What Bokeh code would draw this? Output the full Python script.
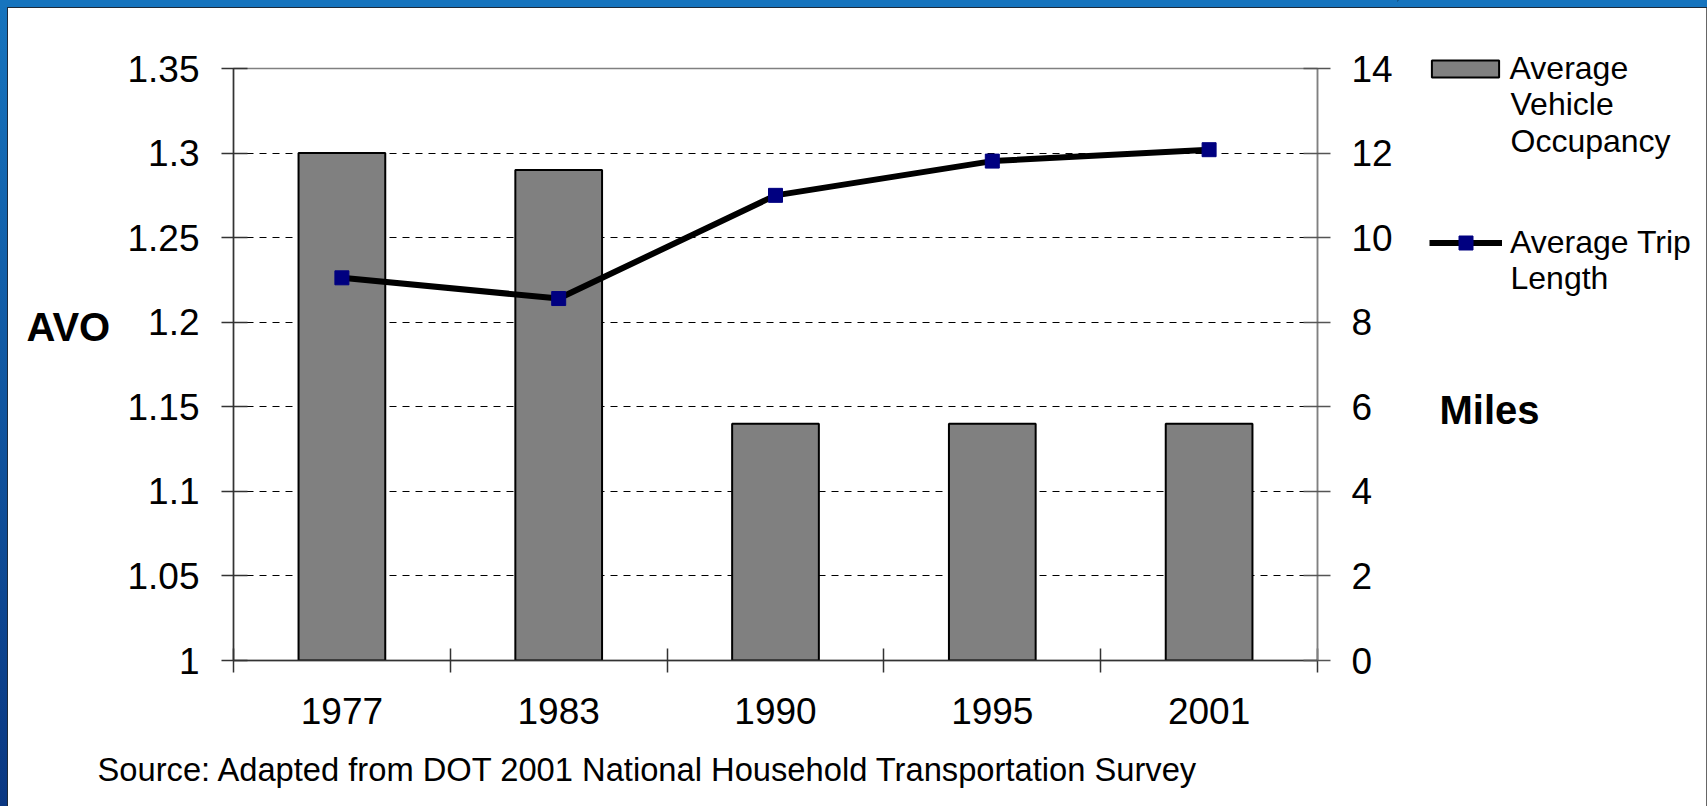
import re
from bokeh.plotting import figure
from bokeh.layouts import row, column
from bokeh.models import (Range1d, LinearAxis, FixedTicker, PrintfTickFormatter,
                          Legend, LegendItem, Label)
from bokeh.embed import file_html
from bokeh.resources import INLINE

# ---------------- data ----------------
years = ["1977", "1983", "1990", "1995", "2001"]
avo = [1.30, 1.29, 1.14, 1.14, 1.14]
trip_miles = [9.05, 8.56, 11.0, 11.81, 12.08]
avo_ticks = [1.0, 1.05, 1.1, 1.15, 1.2, 1.25, 1.3, 1.35]
miles_ticks = [0, 2, 4, 6, 8, 10, 12, 14]
avo_label = "AVO"
miles_label = "Miles"
bar_name_lines = ["Average", "Vehicle", "Occupancy"]
line_name_lines = ["Average Trip", "Length"]
source_text = "Source: Adapted from DOT 2001 National Household Transportation Survey"

# ---------------- layout (page pixels) ----------------
FONT = "Liberation Sans"
TOTAL_W, TOTAL_H = 1707, 806
LEFT_W = 120                       # left strip figure (AVO)
M_BL, FW, M_BR = 113, 1084, 80     # main figure borders / frame width
M_BT, FH, M_BB = 68, 592, 88       # main figure borders / frame height
MAIN_W = M_BL + FW + M_BR
MAIN_H = M_BT + FH + M_BB
RIGHT_W = TOTAL_W - LEFT_W - MAIN_W
BOTTOM_H = TOTAL_H - MAIN_H
TICK_FS = "37px"
LEG_FS = "32px"
BOLD_FS = "40px"
SRC_FS = "32.7px"

BAR_FILL = "#808080"
MARKER = "#000080"

xc = [i + 0.5 for i in range(len(years))]


def blank_fig(w, h, y0):
    f = figure(width=w, height=h, x_range=Range1d(0, w),
               y_range=Range1d(y0 + h, y0),
               x_axis_location=None, y_axis_location=None,
               min_border=0, output_backend="svg", toolbar_location=None,
               border_fill_color=None, background_fill_color=None,
               outline_line_color=None, frame_align=False)
    f.grid.visible = False
    return f


def add_text(f, x, y, txt, size, bold=False):
    f.add_layout(Label(x=x, y=y, text=txt, text_font=FONT,
                       text_font_size=size,
                       text_font_style="bold" if bold else "normal",
                       text_align="left", text_baseline="alphabetic",
                       text_color="black"))


# ---------------- main chart ----------------
p = figure(frame_width=FW, frame_height=FH,
           min_border_left=M_BL, min_border_top=M_BT,
           min_border_right=M_BR, min_border_bottom=M_BB,
           x_range=Range1d(0, len(years)),
           y_range=Range1d(avo_ticks[0], avo_ticks[-1]),
           output_backend="svg", toolbar_location=None,
           background_fill_color="white", border_fill_color=None,
           frame_align=False)
p.extra_y_ranges = {"miles": Range1d(miles_ticks[0], miles_ticks[-1])}
p.outline_line_color = "#808080"
p.outline_line_width = 1.5

xa = p.xaxis[0]
xa.ticker = FixedTicker(ticks=xc, minor_ticks=list(range(len(years) + 1)))
xa.major_label_overrides = {x: y for x, y in zip(xc, years)}
xa.major_tick_in = 0
xa.major_tick_out = 0
xa.major_tick_line_color = None
xa.minor_tick_in = 12
xa.minor_tick_out = 12
xa.minor_tick_line_color = "#333333"
xa.minor_tick_line_width = 1.5
xa.axis_line_color = "#333333"
xa.axis_line_width = 1.5
xa.major_label_text_font = FONT
xa.major_label_text_font_size = TICK_FS
xa.major_label_text_color = "black"
xa.major_label_standoff = 25

ya = p.yaxis[0]
ya.ticker = FixedTicker(ticks=avo_ticks)
ya.formatter = PrintfTickFormatter(format="%g")
ya.major_tick_in = 14
ya.major_tick_out = 12
ya.major_tick_line_color = "#333333"
ya.major_tick_line_width = 1.5
ya.minor_tick_line_color = None
ya.axis_line_color = "#333333"
ya.axis_line_width = 1.5
ya.major_label_text_font = FONT
ya.major_label_text_font_size = TICK_FS
ya.major_label_text_color = "black"
ya.major_label_standoff = 22

ra = LinearAxis(y_range_name="miles", ticker=FixedTicker(ticks=miles_ticks))
ra.major_tick_in = 14
ra.major_tick_out = 13
ra.major_tick_line_color = "#555555"
ra.major_tick_line_width = 1.5
ra.minor_tick_line_color = None
ra.axis_line_color = "#808080"
ra.axis_line_width = 1.5
ra.major_label_text_font = FONT
ra.major_label_text_font_size = TICK_FS
ra.major_label_text_color = "black"
ra.major_label_standoff = 21
p.add_layout(ra, "right")

p.xgrid.visible = False
p.ygrid.ticker = FixedTicker(ticks=avo_ticks[1:-1])
p.ygrid.grid_line_color = "black"
p.ygrid.grid_line_width = 1
p.ygrid.grid_line_dash = "7 6"

p.vbar(x=xc, top=avo, bottom=avo_ticks[0], width=0.4,
       fill_color=BAR_FILL, line_color="black", line_width=2)
p.line(xc, trip_miles, y_range_name="miles", line_color="black", line_width=6)
p.scatter(xc, trip_miles, y_range_name="miles", marker="square",
          size=14, fill_color=MARKER, line_color=MARKER)

# ---------------- left strip (AVO) ----------------
left = blank_fig(LEFT_W, MAIN_H, 0)
add_text(left, 26, 326, avo_label, BOLD_FS, bold=True)

# ---------------- right strip (legend + Miles) ----------------
right = blank_fig(RIGHT_W, MAIN_H, 0)
OFF = [-5000]   # legend proxies: one point far outside the visible range
px_bar = right.vbar(x=OFF, top=OFF, bottom=[-5001], width=1,
                    fill_color=BAR_FILL, line_color="black", line_width=2)
px_line = right.line(x=OFF + [-4999], y=OFF + [-4999],
                     line_color="black", line_width=6)
px_pts = right.scatter(x=OFF, y=OFF, marker="square", size=14,
                       fill_color=MARKER, line_color=MARKER)


def mk_legend(f, label, renderers, gw, gh, standoff, loc):
    lg = Legend(items=[LegendItem(label=label, renderers=renderers)],
                location=loc, orientation="vertical",
                border_line_color=None, background_fill_alpha=0,
                padding=0, margin=0, spacing=0,
                glyph_width=gw, glyph_height=gh, label_standoff=standoff,
                label_height=36,
                label_text_font=FONT, label_text_font_size=LEG_FS,
                label_text_color="black")
    f.add_layout(lg, "center")


mk_legend(right, bar_name_lines[0], [px_bar], 84, 21, 3, (25.6, MAIN_H - 86.5))
mk_legend(right, line_name_lines[0], [px_line, px_pts], 73, 35, 8, (32, MAIN_H - 261))

add_text(right, 113, 103, bar_name_lines[1], LEG_FS)
add_text(right, 113, 140, bar_name_lines[2], LEG_FS)
add_text(right, 113, 277, line_name_lines[1], LEG_FS)
add_text(right, 42, 409, miles_label, BOLD_FS, bold=True)

# ---------------- bottom strip (source) ----------------
bottom = blank_fig(TOTAL_W, BOTTOM_H, MAIN_H)
add_text(bottom, 97, 769, source_text, SRC_FS)

layout = column(row(left, p, right, spacing=0), bottom, spacing=0)

html = file_html(layout, INLINE)
css = ("<style>html{background:#ffffff;}body{background:"
       "linear-gradient(#1674be,#1674be) 0 0/100% 7px no-repeat,"
       "linear-gradient(to bottom,#1674be,#0a3782) 0 0/7px 100% no-repeat,"
       "linear-gradient(#1d2a3a,#1d2a3a) 0 0/100% 8px no-repeat,"
       "linear-gradient(#1d2a3a,#1d2a3a) 0 0/8px 100% no-repeat,"
       "linear-gradient(#666666,#666666) 1706px 0/1px 100% no-repeat,"
       "#ffffff !important;}</style>")
if "</head>" in html:
    html = html.replace("</head>", css + "</head>", 1)
else:
    html = re.sub(r"(<body[^>]*>)", r"\1" + css, html, count=1)
open("out.html", "w").write(html)
